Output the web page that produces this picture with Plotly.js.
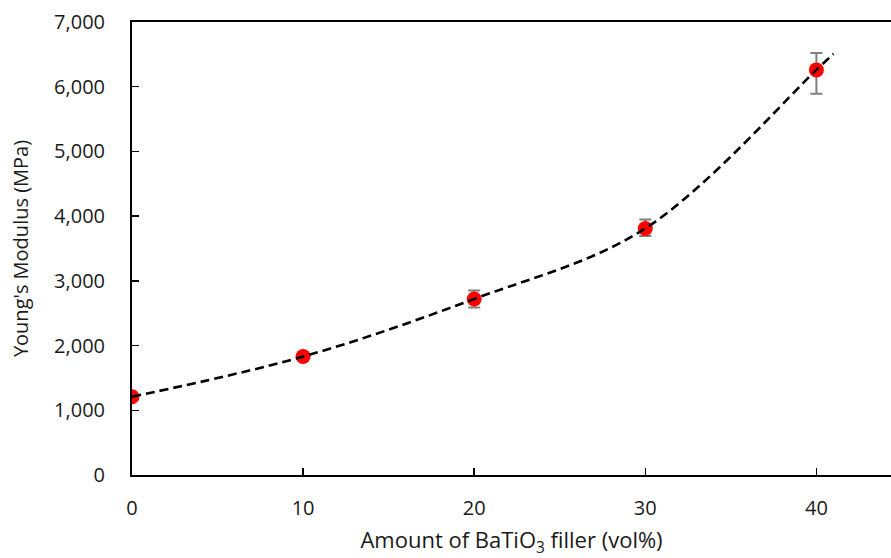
<!DOCTYPE html>
<html>
<head>
<meta charset="utf-8">
<script src="https://cdn.plot.ly/plotly-3.0.1.min.js"></script>
<style>
  html, body { margin: 0; padding: 0; background: #ffffff; }
  #chart { width: 891px; height: 558px; }
</style>
</head>
<body>
<div id="chart"></div>
<script>
// BaTiO3 filler content (vol%) and measured Young's modulus (MPa)
const fillerVol = [0, 10, 20, 30, 40];
const modulus = [1210, 1830, 2720, 3810, 6260];
const errPlus = [50, 60, 130, 140, 260];
const errMinus = [50, 60, 130, 115, 370];

// the dashed trend line runs a little past the last sample
const trendEndX = 41;
const trendEndY = 6510;

const xTicks = [0, 10, 20, 30, 40];
const yTicks = [0, 1000, 2000, 3000, 4000, 5000, 6000, 7000];
const yTickText = ['0', '1,000', '2,000', '3,000', '4,000', '5,000', '6,000', '7,000'];

const FONT = 'Open Sans, Noto Sans, sans-serif';
const TEXT = '#1a1a1a';

const errorTrace = {
  x: fillerVol,
  y: modulus,
  type: 'scatter',
  mode: 'markers',
  marker: { size: 1, color: 'rgba(0,0,0,0)' },
  error_y: {
    type: 'data',
    symmetric: false,
    array: errPlus,
    arrayminus: errMinus,
    color: '#7f7f7f',
    thickness: 2,
    width: 6
  },
  hoverinfo: 'skip',
  showlegend: false
};

const pointTrace = {
  x: fillerVol,
  y: modulus,
  type: 'scatter',
  mode: 'markers',
  marker: { size: 15, color: '#ff0000' },
  showlegend: false
};

const trendTrace = {
  x: fillerVol.concat([trendEndX]),
  y: modulus.concat([trendEndY]),
  type: 'scatter',
  mode: 'lines',
  line: { color: '#000000', width: 2.6, dash: '9px,5px', shape: 'spline', smoothing: 1 },
  hoverinfo: 'skip',
  showlegend: false
};

const layout = {
  width: 891,
  height: 558,
  margin: { l: 132, r: 0, t: 22, b: 83 },
  paper_bgcolor: '#ffffff',
  plot_bgcolor: '#ffffff',
  font: { family: FONT, size: 20, color: TEXT },
  xaxis: {
    range: [0, 44.36],
    tickvals: xTicks,
    ticktext: xTicks.map(String),
    ticks: 'inside',
    ticklen: 7,
    tickwidth: 1.5,
    tickcolor: '#000000',
    showline: true,
    linecolor: '#000000',
    linewidth: 2,
    mirror: true,
    showgrid: false,
    zeroline: false,
    ticklabelstandoff: 14,
    tickfont: { family: FONT, size: 20, color: TEXT },
    title: {
      text: 'Amount of BaTiO<sub>3</sub> filler (vol%)',
      font: { family: FONT, size: 22, color: TEXT },
      standoff: 18
    }
  },
  yaxis: {
    range: [0, 7000],
    tickvals: yTicks,
    ticktext: yTickText,
    ticks: 'inside',
    ticklen: 7,
    tickwidth: 1.5,
    tickcolor: '#000000',
    showline: true,
    linecolor: '#000000',
    linewidth: 2,
    showgrid: false,
    zeroline: false,
    ticklabelstandoff: 21,
    tickfont: { family: FONT, size: 20, color: TEXT },
    title: {
      text: "Young's Modulus (MPa)",
      font: { family: FONT, size: 20, color: TEXT },
      standoff: 20
    }
  }
};

Plotly.newPlot('chart', [errorTrace, pointTrace, trendTrace], layout, { displayModeBar: false, staticPlot: true });
</script>
</body>
</html>
